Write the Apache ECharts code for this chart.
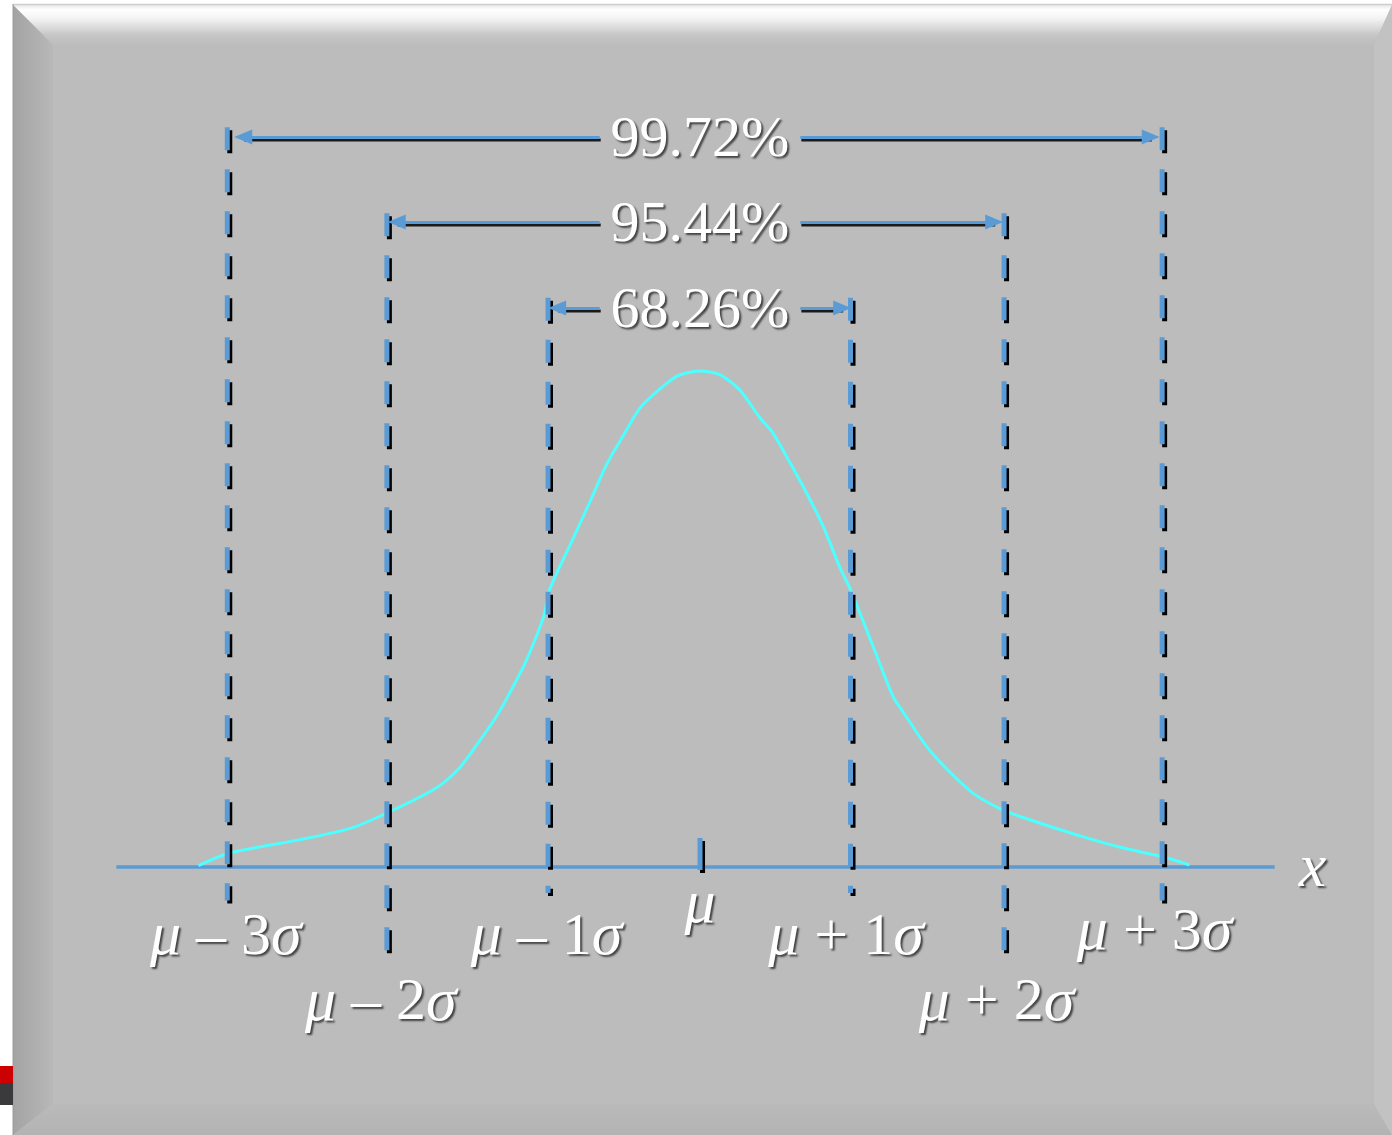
<!DOCTYPE html>
<html><head><meta charset="utf-8">
<script src="https://cdn.jsdelivr.net/npm/echarts@6/dist/echarts.min.js"></script>
<style>html,body{margin:0;padding:0;background:#fff;}#c{width:1392px;height:1135px;}</style>
</head><body><div id="c"></div><script>
// ---- data (x in units of sigma, y as density) ----
const curveX = [-3.30,-3.10,-2.63,-2.30,-2.05,-1.73,-1.58,-1.47,-1.34,-1.23,-1.14,-1.03,-0.99,-0.84,-0.72,-0.61,-0.51,-0.39,-0.22,-0.13,0,0.13,0.26,0.39,0.48,0.57,0.70,0.81,0.92,0.99,1.14,1.27,1.34,1.49,1.63,1.80,1.99,2.17,2.50,2.76,3.05,3.22];
const curveY = [0.001,0.011,0.022,0.031,0.044,0.064,0.080,0.098,0.121,0.145,0.167,0.201,0.223,0.263,0.295,0.325,0.346,0.370,0.389,0.396,0.399,0.396,0.384,0.362,0.349,0.330,0.301,0.274,0.241,0.223,0.177,0.137,0.124,0.097,0.078,0.059,0.046,0.038,0.025,0.016,0.008,0.0016];
const sigmaMult = [-3, -2, -1, 0, 1, 2, 3];
const sigmaPos = [-3.11, -2.06, -1.00, 0, 0.99, 2.00, 3.04];
const rangeLabels = ['68.26%', '95.44%', '99.72%'];
const rangeK = [1, 2, 3];
const axisName = 'x';

// ---- layout (annotation placement, not data) ----
const L = {
  xMin: -4.342, xMax: 4.289, yMin: -0.1714, yMax: 0.6492,
  baseFrom: -3.84, baseTo: 3.78,
  lineTop: {1: 0.458, 2: 0.526, 3: 0.595},
  lineBottom: {1: -0.021, 2: -0.067, 3: -0.027},
  muTick: [0.0233, -0.0024],
  arrowLevel: {1: 0.4497, 2: 0.5189, 3: 0.5873},
  arrowTip: {1: [-0.94, 0.935], 2: [-1.995, 1.935], 3: [-3.005, 2.965]},
  arrowInner: [-0.66, 0.66],
  pctY: {1: 0.447, 2: 0.516, 3: 0.584},
  labelX: [-3.12, -2.10, -1.01, 0, 0.96, 1.95, 2.99],
  labelY: [-0.057, -0.110, -0.057, -0.031, -0.057, -0.110, -0.053],
  xNamePos: [4.03, -0.002]
};

const BLUE = '#5B9BD5';
const SERIF = 'Liberation Serif';
const shadow = {textShadowColor: 'rgba(0,0,0,0.65)', textShadowBlur: 2, textShadowOffsetX: 2, textShadowOffsetY: 2, textBorderWidth: 0, opacity: 1};

function sigmaText(k) {
  if (k === 0) return '{i|μ}';
  const sign = k < 0 ? '–' : '+';
  return '{i|μ}{r| ' + sign + ' ' + Math.abs(k) + '}{i|σ}';
}

const series = [];
// baseline + range arrows
series.push({
  type: 'line', data: [[L.baseFrom, 0], [L.baseTo, 0]], symbol: 'none', z: 2,
  lineStyle: {color: BLUE, width: 3.5}, silent: true,
  markLine: {
    silent: true, symbol: ['none', 'triangle'], symbolSize: [15, 18], z: 5,
    label: {show: false},
    lineStyle: {color: BLUE, width: 3, type: 'solid', shadowColor: '#1a1a1a', shadowOffsetX: 1, shadowOffsetY: 2.5, shadowBlur: 0},
    emphasis: {disabled: true},
    data: rangeK.flatMap(k => [
      [{coord: [L.arrowInner[0], L.arrowLevel[k]]}, {coord: [L.arrowTip[k][0], L.arrowLevel[k]]}],
      [{coord: [L.arrowInner[1], L.arrowLevel[k]]}, {coord: [L.arrowTip[k][1], L.arrowLevel[k]]}]
    ])
  }
});
// curve
series.push({
  type: 'line', data: curveX.map((x, i) => [x, curveY[i]]), symbol: 'none', smooth: 0.25, z: 3,
  lineStyle: {color: '#4DFFFF', width: 3}, silent: true
});
// dashed sigma lines
sigmaMult.forEach((k, i) => {
  const a = Math.abs(k);
  const d = a === 0 ? [[0, L.muTick[0]], [0, L.muTick[1]]]
                    : [[sigmaPos[i], L.lineTop[a]], [sigmaPos[i], L.lineBottom[a]]];
  series.push({
    type: 'line', data: d, symbol: 'none', z: 4, silent: true,
    lineStyle: {color: BLUE, width: 5, type: a === 0 ? 'solid' : [23, 19],
      shadowColor: '#000', shadowOffsetX: 2.5, shadowOffsetY: 3, shadowBlur: 0}
  });
});
// sigma labels
const richBase = {
  i: Object.assign({fontFamily: SERIF, fontStyle: 'italic', fontSize: 62, color: '#ffffff'}, shadow),
  r: Object.assign({fontFamily: SERIF, fontSize: 60, color: '#ffffff'}, shadow)
};
const labelItem = {color: '#bcbcbc', opacity: 1};
series.push({
  type: 'scatter', symbolSize: 1, itemStyle: labelItem, z: 6, silent: true, clip: false,
  data: sigmaMult.map((k, i) => ({
    value: [L.labelX[i], L.labelY[i]],
    label: Object.assign({show: true, position: 'inside', color: '#ffffff', formatter: sigmaText(k), rich: richBase}, shadow)
  })).concat([{
    value: L.xNamePos,
    label: Object.assign({show: true, position: 'inside', color: '#ffffff', formatter: '{i|' + axisName + '}', rich: richBase}, shadow)
  }])
});
// percentage labels
series.push({
  type: 'scatter', symbolSize: 1, itemStyle: labelItem, z: 6, silent: true, clip: false,
  data: rangeK.map((k, i) => ({
    value: [0, L.pctY[k]],
    label: Object.assign({show: true, position: 'inside', formatter: rangeLabels[i],
      fontFamily: SERIF, fontSize: 58, color: '#ffffff'}, shadow)
  }))
});

const W = 1392, H = 1135;
const graphic = [
  {type: 'rect', z: -20, shape: {x: 13, y: 4, width: W - 13, height: H - 4}, style: {fill: '#bcbcbc'}},
  {type: 'polygon', z: -19, shape: {points: [[13, 5], [W, 5], [1374, 45], [53, 45]]},
    style: {fill: new echarts.graphic.LinearGradient(0, 0, 0, 1, [
      {offset: 0, color: '#e8e8e8'}, {offset: 0.12, color: '#ffffff'}, {offset: 0.35, color: '#f2f2f2'},
      {offset: 0.75, color: '#c6c6c6'}, {offset: 1, color: '#bdbdbd'}])}},
  {type: 'polygon', z: -19, shape: {points: [[13, 5], [53, 45], [53, 1104], [13, 1135]]},
    style: {fill: new echarts.graphic.LinearGradient(0, 0, 1, 0, [
      {offset: 0, color: '#a3a3a3'}, {offset: 1, color: '#b8b8b8'}])}},
  {type: 'polygon', z: -19, shape: {points: [[13, 1135], [53, 1104], [1374, 1104], [W, 1135]]},
    style: {fill: new echarts.graphic.LinearGradient(0, 0, 0, 1, [
      {offset: 0, color: '#bababa'}, {offset: 1, color: '#b3b3b3'}])}},
  {type: 'polygon', z: -19, shape: {points: [[W, 5], [1374, 45], [1374, 1104], [W, 1135]]},
    style: {fill: '#c2c2c2'}},
  {type: 'line', z: -18, shape: {x1: 13, y1: 4.5, x2: W, y2: 4.5}, style: {stroke: '#cfcfcf', lineWidth: 1.5}},
  {type: 'line', z: -18, shape: {x1: 13, y1: 4, x2: 13, y2: H}, style: {stroke: '#9a9a9a', lineWidth: 1}},
  {type: 'rect', z: -18, shape: {x: 0, y: 1066, width: 13, height: 17}, style: {fill: '#cc0000'}},
  {type: 'rect', z: -18, shape: {x: 0, y: 1083, width: 13, height: 22}, style: {fill: '#3a3a3c'}}
];

const chart = echarts.init(document.getElementById('c'), null, {renderer: 'canvas'});
chart.setOption({
  animation: false,
  backgroundColor: '#ffffff',
  graphic: graphic,
  grid: {left: 40, right: 40, top: 60, bottom: 55},
  xAxis: {type: 'value', min: L.xMin, max: L.xMax, show: false},
  yAxis: {type: 'value', min: L.yMin, max: L.yMax, show: false},
  series: series
});
</script></body></html>
